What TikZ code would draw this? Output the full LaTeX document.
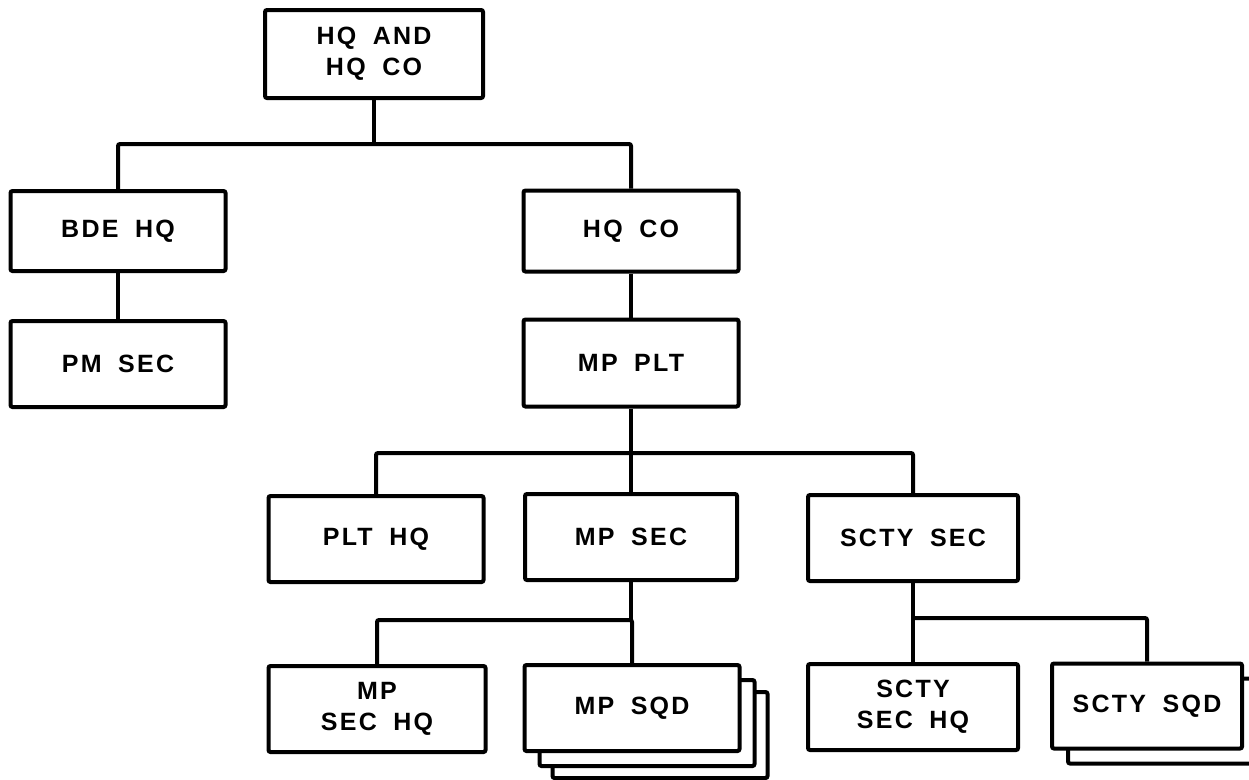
\documentclass[tikz,border=0pt]{standalone}
\usepackage{fontspec}
\newfontfamily\lbl[LetterSpace=9,WordSpace=1.8]{Liberation Sans}
\begin{document}
\begin{tikzpicture}[x=1pt,y=-1pt,
  box/.style={draw, line width=4pt, fill=white, rounded corners=2pt, align=center, inner sep=0pt,
    font=\lbl\bfseries\fontsize{25}{31}\selectfont, minimum width=215pt, minimum height=86pt},
  wire/.style={line width=4pt, rounded corners=2pt}]
\clip (0,0) rectangle (1249,779);
\useasboundingbox (0,0) rectangle (1249,779);
% boxes
\node[box, minimum width=218pt, minimum height=88pt] (top) at (374,54) {HQ AND\\HQ CO};
\node[box, minimum height=80pt] (bde) at (118,231) {BDE HQ};
\node[box] (pm) at (118,364) {PM SEC};
\node[box, minimum height=81pt] (hqco) at (631,231) {HQ CO};
\node[box, minimum height=87pt] (mpplt) at (631,363) {MP PLT};
\node[box] (plthq) at (376,539) {PLT HQ};
\node[box, minimum width=212pt] (mpsec) at (631,537) {MP SEC};
\node[box, minimum width=210pt] (sctysec) at (913,538) {SCTY SEC};
\node[box, minimum width=217pt] (mpsechq) at (377,709) {MP\\SEC HQ};
\node[box, minimum width=210pt] (sctysechq) at (913,707) {SCTY\\SEC HQ};
\node[box] (mpsqdc) at (660,735) {};
\node[box] (mpsqdb) at (647,723) {};
\node[box] (mpsqd) at (632,708) {MP SQD};
\node[box, minimum width=190pt, minimum height=85pt] (sctysqdb) at (1163,721) {};
\node[box, minimum width=190pt, minimum height=85pt] (sctysqd) at (1147,706) {SCTY SQD};
% bus levels
\coordinate (y1) at (0,144);
\coordinate (y2) at (0,453);
\coordinate (y3) at (0,620);
\coordinate (y4) at (0,618);
% connectors
\draw[wire] (top.south) -- (top.south |- y1);
\draw[wire] (bde.north) |- (hqco.north |- y1) -- (hqco.north);
\draw[wire] (bde.south) -- (pm.north);
\draw[wire] (hqco.south) -- (mpplt.north);
\draw[wire] (mpplt.south) -- (mpsec.north);
\draw[wire] (plthq.north) |- (sctysec.north |- y2) -- (sctysec.north);
\draw[wire] (mpsec.south) -- (mpsec.south |- y3);
\draw[wire] (mpsechq.north) |- (mpsqd.north |- y3) -- (mpsqd.north);
\draw[wire] (sctysec.south) -- (sctysechq.north);
\draw[wire] (sctysec.south |- y4) -| (sctysqd.north);
\end{tikzpicture}
\end{document}
